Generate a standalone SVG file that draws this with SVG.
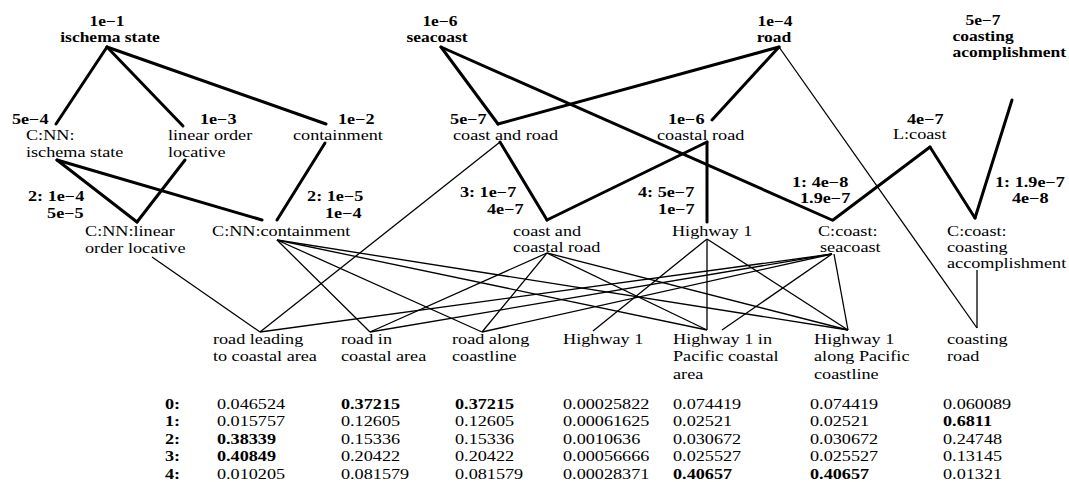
<svg xmlns="http://www.w3.org/2000/svg" width="1069" height="482" viewBox="0 0 1069 482">
<style>
text{font-family:"Liberation Serif","Times New Roman",serif;font-size:14px;fill:#000}
.t{transform:scale(1.3,1);transform-origin:0 0;transform-box:view-box}
.h{transform:scale(1.25,1);transform-origin:0 0;transform-box:view-box}
.b{font-weight:bold}
.m{text-anchor:middle}
.k{stroke:#000;stroke-width:3;stroke-linecap:round;fill:none}
.s{stroke:#000;stroke-width:1.3;fill:none}
</style>
<rect width="1069" height="482" fill="#fff"/>
<g id="connectors">
<line class="k" x1="107" y1="47" x2="56" y2="124"/>
<line class="k" x1="107" y1="47" x2="183" y2="126"/>
<line class="k" x1="107" y1="47" x2="326" y2="124"/>
<line class="k" x1="441" y1="47" x2="498" y2="124"/>
<line class="k" x1="779" y1="47" x2="498" y2="124"/>
<line class="k" x1="779" y1="47" x2="712" y2="120"/>
<line class="k" x1="441" y1="47" x2="832" y2="220"/>
<line class="k" x1="57" y1="160" x2="137" y2="222"/>
<line class="k" x1="57" y1="160" x2="262" y2="220"/>
<line class="k" x1="185" y1="160" x2="137" y2="222"/>
<line class="k" x1="325" y1="143" x2="277" y2="220"/>
<line class="k" x1="500" y1="142" x2="547" y2="220"/>
<line class="k" x1="707" y1="142" x2="547" y2="220"/>
<line class="k" x1="707" y1="142" x2="707" y2="222"/>
<line class="k" x1="930" y1="147" x2="833" y2="220"/>
<line class="k" x1="930" y1="147" x2="975" y2="218"/>
<line class="k" x1="1012" y1="100" x2="975" y2="218"/>
<line class="s" x1="500" y1="142" x2="260" y2="332"/>
<line class="s" x1="779" y1="47" x2="977" y2="328"/>
<line class="s" x1="152" y1="257" x2="260" y2="332"/>
<line class="s" x1="277" y1="240" x2="370" y2="332"/>
<line class="s" x1="277" y1="240" x2="482" y2="332"/>
<line class="s" x1="277" y1="240" x2="707" y2="330"/>
<line class="s" x1="277" y1="240" x2="848" y2="330"/>
<line class="s" x1="547" y1="253" x2="370" y2="332"/>
<line class="s" x1="547" y1="253" x2="482" y2="332"/>
<line class="s" x1="547" y1="253" x2="707" y2="330"/>
<line class="s" x1="547" y1="253" x2="848" y2="330"/>
<line class="s" x1="707" y1="239" x2="593" y2="331"/>
<line class="s" x1="707" y1="239" x2="707" y2="330"/>
<line class="s" x1="707" y1="239" x2="848" y2="330"/>
<line class="s" x1="832" y1="254" x2="260" y2="332"/>
<line class="s" x1="832" y1="254" x2="370" y2="332"/>
<line class="s" x1="832" y1="254" x2="482" y2="332"/>
<line class="s" x1="832" y1="254" x2="722" y2="330"/>
<line class="s" x1="834" y1="254" x2="848" y2="330"/>
<line class="s" x1="977" y1="270" x2="977" y2="328"/>
</g>
<g id="n-ischema-state" class="h b"><text class="m" x="85.6" y="26">1e−1</text><text class="m" x="88" y="42">ischema state</text></g>
<g id="n-seacoast" class="h b"><text class="m" x="352" y="26">1e−6</text><text class="m" x="349.6" y="42">seacoast</text></g>
<g id="n-road" class="h b"><text class="m" x="620" y="26">1e−4</text><text class="m" x="619.2" y="42">road</text></g>
<g id="n-coasting-acomplishment" class="h b"><text class="m" x="786.4" y="25">5e−7</text><text x="762" y="41">coasting</text><text x="762" y="57">acomplishment</text></g>
<g id="n-cnn-ischema" class="t"><text class="b" x="9.2" y="124">5e−4</text><text x="20" y="140">C:NN:</text><text x="20" y="157">ischema state</text></g>
<g id="n-linear-order" class="t"><text class="b" x="153.8" y="124">1e−3</text><text x="129.2" y="140">linear order</text><text x="129.2" y="157">locative</text></g>
<g id="n-containment" class="t"><text class="b" x="260" y="124">1e−2</text><text x="225.4" y="140">containment</text></g>
<g id="n-coast-and-road" class="t"><text class="b" x="346.2" y="124">5e−7</text><text x="348.5" y="140">coast and road</text></g>
<g id="n-coastal-road" class="t"><text class="b" x="513.8" y="124">1e−6</text><text x="505.4" y="140">coastal road</text></g>
<g id="n-lcoast" class="t"><text class="b" x="697.7" y="124">4e−7</text><text x="686.9" y="139">L:coast</text></g>
<g id="weights" class="t b"><text x="21.5" y="201">2: 1e−4</text><text x="36.2" y="218">5e−5</text><text x="236.2" y="201">2: 1e−5</text><text x="250" y="218">1e−4</text><text x="353.8" y="197">3: 1e−7</text><text x="374.6" y="214">4e−7</text><text x="490.8" y="197">4: 5e−7</text><text x="506.2" y="214">1e−7</text><text x="609.2" y="187">1: 4e−8</text><text x="615.4" y="203">1.9e−7</text><text x="765.4" y="187">1: 1.9e−7</text><text x="778.5" y="203">4e−8</text></g>
<g id="n-cnn-linear" class="t"><text x="65.4" y="236">C:NN:linear</text><text x="65.4" y="253">order locative</text></g>
<g id="n-cnn-containment" class="t"><text x="163.1" y="236">C:NN:containment</text></g>
<g id="n-coast-and-coastal-road" class="t"><text x="394.6" y="236">coast and</text><text x="394.6" y="252">coastal road</text></g>
<g id="n-highway1-mid" class="t"><text x="516.9" y="236">Highway 1</text></g>
<g id="n-ccoast-seacoast" class="t"><text x="629.2" y="236">C:coast:</text><text x="630.8" y="252">seacoast</text></g>
<g id="n-ccoast-coasting" class="t"><text x="728.5" y="236">C:coast:</text><text x="728.5" y="252">coasting</text><text x="728.5" y="268">accomplishment</text></g>
<g id="n-road-leading" class="t"><text x="163.8" y="344">road leading</text><text x="163.8" y="361">to coastal area</text></g>
<g id="n-road-in" class="t"><text x="262.3" y="344">road in</text><text x="262.3" y="361">coastal area</text></g>
<g id="n-road-along" class="t"><text x="347.7" y="344">road along</text><text x="347.7" y="361">coastline</text></g>
<g id="n-highway1" class="t"><text x="433.1" y="344">Highway 1</text></g>
<g id="n-highway1-in" class="t"><text x="517.7" y="344">Highway 1 in</text><text x="517.7" y="361">Pacific coastal</text><text x="517.7" y="379">area</text></g>
<g id="n-highway1-along" class="t"><text x="626.2" y="344">Highway 1</text><text x="626.2" y="361">along Pacific</text><text x="626.2" y="379">coastline</text></g>
<g id="n-coasting-road" class="t"><text x="728.5" y="344">coasting</text><text x="728.5" y="361">road</text></g>
<g id="table" class="t">
<g class="b"><text x="126.9" y="409">0:</text><text x="126.9" y="426.5">1:</text><text x="126.9" y="444">2:</text><text x="126.9" y="461.5">3:</text><text x="126.9" y="479">4:</text></g>
<text x="166.9" y="409">0.046524</text><text class="b" x="262.3" y="409">0.37215</text><text class="b" x="350" y="409">0.37215</text><text x="433.1" y="409">0.00025822</text><text x="517.7" y="409">0.074419</text><text x="623.1" y="409">0.074419</text><text x="725.4" y="409">0.060089</text>
<text x="166.9" y="426.5">0.015757</text><text x="262.3" y="426.5">0.12605</text><text x="350" y="426.5">0.12605</text><text x="433.1" y="426.5">0.00061625</text><text x="517.7" y="426.5">0.02521</text><text x="623.1" y="426.5">0.02521</text><text class="b" x="725.4" y="426.5">0.6811</text>
<text class="b" x="166.9" y="444">0.38339</text><text x="262.3" y="444">0.15336</text><text x="350" y="444">0.15336</text><text x="433.1" y="444">0.0010636</text><text x="517.7" y="444">0.030672</text><text x="623.1" y="444">0.030672</text><text x="725.4" y="444">0.24748</text>
<text class="b" x="166.9" y="461.5">0.40849</text><text x="262.3" y="461.5">0.20422</text><text x="350" y="461.5">0.20422</text><text x="433.1" y="461.5">0.00056666</text><text x="517.7" y="461.5">0.025527</text><text x="623.1" y="461.5">0.025527</text><text x="725.4" y="461.5">0.13145</text>
<text x="166.9" y="479">0.010205</text><text x="262.3" y="479">0.081579</text><text x="350" y="479">0.081579</text><text x="433.1" y="479">0.00028371</text><text class="b" x="517.7" y="479">0.40657</text><text class="b" x="623.1" y="479">0.40657</text><text x="725.4" y="479">0.01321</text>
</g>
</svg>
